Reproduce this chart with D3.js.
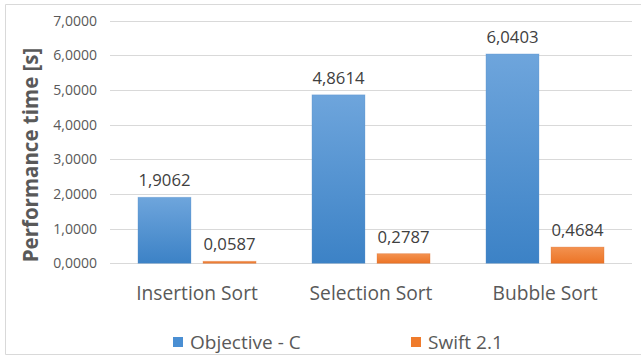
<!DOCTYPE html>
<html><head><meta charset="utf-8">
<script src="https://cdn.jsdelivr.net/npm/d3@7"></script>
<style>body{margin:0;background:#fff}svg{display:block}text{font-family:"Open Sans",sans-serif}</style>
</head><body>
<svg id="c" width="641" height="356"></svg>
<script>
const categories = ["Insertion Sort", "Selection Sort", "Bubble Sort"];
const seriesNames = ["Objective - C", "Swift 2.1"];
const objcValues = [1.9062, 4.8614, 6.0403];
const swiftValues = [0.0587, 0.2787, 0.4684];
const yTicks = [0, 1, 2, 3, 4, 5, 6, 7];
const yTitle = "Performance time [s]";

const svg = d3.select("#c");
const fmt = v => v.toFixed(4).replace(".", ",");
const m = {left: 110, right: 632, top: 20.7, bottom: 263.3};

const defs = svg.append("defs");
function grad(id, c1, c2) {
  const g = defs.append("linearGradient").attr("id", id).attr("x1", 0).attr("y1", 0).attr("x2", 0).attr("y2", 1);
  g.append("stop").attr("offset", "0%").attr("stop-color", c1);
  g.append("stop").attr("offset", "100%").attr("stop-color", c2);
}
grad("gb", "#6ea5dc", "#3c82c6");
grad("go", "#f39250", "#ec7426");

// chart border
svg.append("path").attr("d", "M645,4.5 H5.5 V354.5 H645").attr("fill", "none").attr("stroke", "#d9d9d9");

const x = d3.scaleBand().domain(categories).range([m.left, m.right]);
const y = d3.scaleLinear().domain([0, 7]).range([m.bottom, m.top]);
const inner = d3.scaleBand().domain(seriesNames).range([0, x.bandwidth()]).paddingInner(0.185).paddingOuter(0.43);

// grid
svg.append("g").selectAll("line").data(yTicks).join("line")
  .attr("x1", m.left).attr("x2", m.right)
  .attr("y1", d => Math.round(y(d)) + 0.5).attr("y2", d => Math.round(y(d)) + 0.5)
  .attr("stroke", "#d9d9d9").attr("stroke-width", 1);

// y axis labels
const yAxis = d3.axisLeft(y).tickValues(yTicks).tickFormat(fmt).tickSize(0).tickPadding(0);
const ga = svg.append("g").attr("transform", `translate(97,0)`).call(yAxis);
ga.select(".domain").remove();
ga.selectAll("text").attr("font-size", 14).attr("fill", "#595959").attr("font-family", "Open Sans");

// x axis labels
const xAxis = d3.axisBottom(x).tickSize(0).tickPadding(0);
const gx = svg.append("g").attr("transform", `translate(0,286)`).call(xAxis);
gx.select(".domain").remove();
gx.selectAll("text").attr("font-size", 19.2).attr("fill", "#595959").attr("font-family", "Open Sans");

// y title
svg.append("text").attr("transform", "translate(38,155) rotate(-90)")
  .attr("text-anchor", "middle").attr("font-size", 20.5).attr("font-weight", "bold")
  .attr("fill", "#595959").text(yTitle);

const rows = categories.map((c, i) => ({c, vals: [objcValues[i], swiftValues[i]]}));
const fills = ["url(#gb)", "url(#go)"];
const edges = ["#5a8fc8", "#d8692a"];
rows.forEach(r => {
  r.vals.forEach((v, j) => {
    const bx = x(r.c) + inner(seriesNames[j]);
    const bw = inner.bandwidth();
    svg.append("rect").attr("x", bx).attr("y", y(v)).attr("width", bw).attr("height", y(0) - y(v))
      .attr("fill", fills[j]).attr("stroke", edges[j]).attr("stroke-opacity", 0.35).attr("stroke-width", 0.8);
    svg.append("text").attr("x", bx + bw / 2).attr("y", y(v) - 11)
      .attr("text-anchor", "middle").attr("font-size", 16.7).attr("fill", "#404040").text(fmt(v));
  });
});

// legend
const legX = [173, 411];
const legCol = ["#4a8fd3", "#ef7b2c"];
seriesNames.forEach((s, i) => {
  svg.append("rect").attr("x", legX[i]).attr("y", 337).attr("width", 10).attr("height", 10).attr("fill", legCol[i]);
  svg.append("text").attr("x", legX[i] + 17).attr("y", 348.5).attr("font-size", 19).attr("fill", "#595959").text(s);
});
</script>
</body></html>
